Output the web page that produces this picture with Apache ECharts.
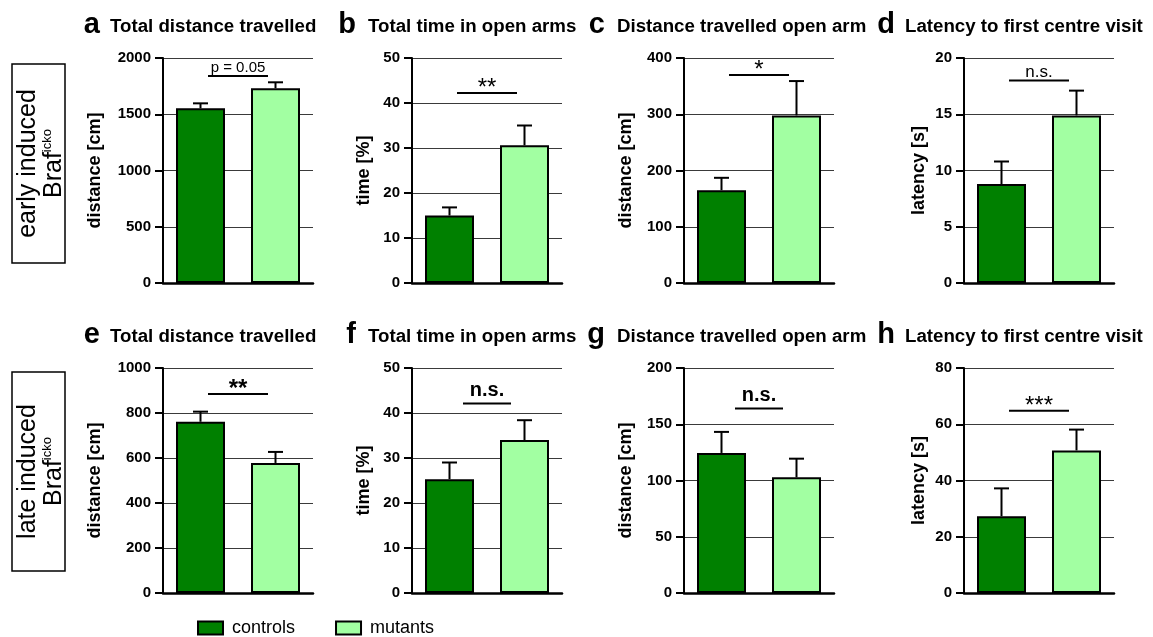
<!DOCTYPE html>
<html>
<head>
<meta charset="utf-8">
<script src="https://cdn.jsdelivr.net/npm/echarts@6/dist/echarts.min.js"></script>
<style>
  html, body { margin: 0; padding: 0; background: #fff; }
  #chart { width: 1153px; height: 637px; }
</style>
</head>
<body>
<div id="chart"></div>
<script>
// ---- data ----
const groups = ['controls', 'mutants'];
const rowLabels = ['early induced', 'late induced'];
const genotype = 'Braf';
const genotypeSup = 'icko';
const panelLetters = ['a', 'b', 'c', 'd', 'e', 'f', 'g', 'h'];
const panelTitles = [
  'Total distance travelled', 'Total time in open arms', 'Distance travelled open arm', 'Latency to first centre visit',
  'Total distance travelled', 'Total time in open arms', 'Distance travelled open arm', 'Latency to first centre visit'
];
const axisNames = [
  'distance [cm]', 'time [%]', 'distance [cm]', 'latency [s]',
  'distance [cm]', 'time [%]', 'distance [cm]', 'latency [s]'
];
const axisMax = [2000, 50, 400, 20, 1000, 50, 200, 80];
const axisStep = [500, 10, 100, 5, 200, 10, 50, 20];
const controlsMean = [1553, 15.0, 165, 8.8, 761, 25.3, 124.5, 27.3];
const controlsSEM = [44, 1.8, 22, 2.0, 45, 3.7, 18.7, 9.9];
const mutantsMean = [1731, 30.6, 298, 14.9, 578, 34.0, 102.8, 50.7];
const mutantsSEM = [53, 4.4, 61, 2.2, 49, 4.4, 16.6, 7.4];
const sigLabels = ['p = 0.05', '**', '*', 'n.s.', '**', 'n.s.', 'n.s.', '***'];
const sigLevels = [1840, 42.2, 370, 18, 884, 42.1, 164, 64.8];

// ---- layout & styles ----
const FONT = "'Liberation Sans', Arial, Helvetica, sans-serif";
const colors = { controls: '#008000', mutants: '#a2ffa2' };
const colLeft = [163, 412, 684, 964];
const rowTop = [58, 368];
const plotW = 150, plotH = 225;
const letterRight = [100, 356, 605, 895];
const titleLeft = [110, 368, 617, 905];
const titleBaseline = [33, 343.5];
const nameGaps = [59, 39, 49, 36];
const sigWidth = [60, 60, 60, 60, 60, 48, 48, 60];
const sigStyle = [
  { weight: 'normal', size: 15, lift: 8 },
  { weight: 'normal', size: 24, lift: 4.5 },
  { weight: 'normal', size: 24, lift: 4.5 },
  { weight: 'normal', size: 17, lift: 8.5 },
  { weight: 'bold', size: 24, lift: 4.5 },
  { weight: 'bold', size: 20, lift: 13.5 },
  { weight: 'bold', size: 20, lift: 13.5 },
  { weight: 'normal', size: 24, lift: 4.5 }
];

const grids = [], xAxes = [], yAxes = [], series = [], graphics = [];

panelLetters.forEach((letter, i) => {
  const col = i % 4, row = Math.floor(i / 4);
  grids.push({ left: colLeft[col], top: rowTop[row], width: plotW, height: plotH, containLabel: false });
  xAxes.push({
    type: 'category', gridIndex: i, data: groups,
    axisLine: { lineStyle: { color: '#000', width: 2.5 } },
    axisTick: { show: false }, axisLabel: { show: false }, splitLine: { show: false }
  });
  yAxes.push({
    type: 'value', gridIndex: i, min: 0, max: axisMax[i], interval: axisStep[i],
    name: axisNames[i], nameLocation: 'middle', nameGap: nameGaps[col],
    nameTextStyle: { fontFamily: FONT, fontSize: 18, fontWeight: 'bold', color: '#000' },
    axisLine: { show: true, lineStyle: { color: '#000', width: 2 } },
    axisTick: { show: true, inside: false, length: 8, lineStyle: { color: '#000', width: 2 } },
    axisLabel: { margin: 12, fontFamily: FONT, fontSize: 15, fontWeight: 'bold', color: '#000',
                 formatter: v => String(v) },
    splitLine: { show: true, lineStyle: { color: '#3a3a3a', width: 1 } }
  });

  series.push({
    type: 'bar', name: 'controls', xAxisIndex: i, yAxisIndex: i,
    data: [controlsMean[i], '-'], barWidth: 49, barGap: '-100%',
    itemStyle: { color: colors.controls, borderColor: '#000', borderWidth: 2 }, silent: true
  });
  series.push({
    type: 'bar', name: 'mutants', xAxisIndex: i, yAxisIndex: i,
    data: ['-', mutantsMean[i]], barWidth: 49, barGap: '-100%',
    itemStyle: { color: colors.mutants, borderColor: '#000', borderWidth: 2 }, silent: true
  });

  // upper SEM whiskers
  series.push({
    type: 'custom', xAxisIndex: i, yAxisIndex: i, silent: true, z: 3,
    encode: { x: 0, y: 1 },
    data: [[0, controlsMean[i], controlsSEM[i]], [1, mutantsMean[i], mutantsSEM[i]]],
    renderItem: (params, api) => {
      const c = api.value(0), m = api.value(1), e = api.value(2);
      const p0 = api.coord([c, m]);
      const p1 = api.coord([c, m + e]);
      const st = { stroke: '#000', lineWidth: 2 };
      return {
        type: 'group', children: [
          { type: 'line', shape: { x1: p0[0], y1: p0[1], x2: p1[0], y2: p1[1] }, style: st },
          { type: 'line', shape: { x1: p1[0] - 7.5, y1: p1[1], x2: p1[0] + 7.5, y2: p1[1] }, style: st }
        ]
      };
    }
  });

  // significance bracket
  const ss = sigStyle[i];
  series.push({
    type: 'custom', xAxisIndex: i, yAxisIndex: i, silent: true, z: 3,
    encode: { x: 0, y: 1 },
    data: [[0, sigLevels[i]]],
    renderItem: (params, api) => {
      const y = api.value(1);
      const a = api.coord([0, y]);
      const b = api.coord([1, y]);
      const mid = (a[0] + b[0]) / 2;
      const hw = sigWidth[i] / 2;
      return {
        type: 'group', children: [
          { type: 'line', shape: { x1: mid - hw, y1: a[1], x2: mid + hw, y2: a[1] }, style: { stroke: '#000', lineWidth: 2 } },
          { type: 'text', x: mid, y: a[1] - ss.lift,
            style: { text: sigLabels[i], fill: '#000', font: ss.weight + ' ' + ss.size + 'px ' + FONT,
                     textAlign: 'center', textVerticalAlign: 'middle' } }
        ]
      };
    }
  });

  // panel letter and heading
  graphics.push({
    type: 'text', x: letterRight[col], y: titleBaseline[row] - 0.35 * 29 + 2,
    style: { text: letter, fill: '#000', font: 'bold 29px ' + FONT, textAlign: 'right', textVerticalAlign: 'middle' }
  });
  graphics.push({
    type: 'text', x: titleLeft[col], y: titleBaseline[row] - 0.35 * 18.7,
    style: { text: panelTitles[i], fill: '#000', font: 'bold 18.7px ' + FONT, textAlign: 'left', textVerticalAlign: 'middle' }
  });
});

// framed row labels
const boxTop = [64, 372];
rowLabels.forEach((lab, r) => {
  graphics.push({
    type: 'rect', shape: { x: 12, y: boxTop[r], width: 53, height: 199 },
    style: { fill: '#fff', stroke: '#000', lineWidth: 1.5 }
  });
  graphics.push({
    type: 'text', x: 41, y: boxTop[r] + 99.5, rotation: Math.PI / 2,
    style: {
      text: '{m|' + lab + '}\n{m|' + genotype + '}{s|' + genotypeSup + '}',
      textAlign: 'center', textVerticalAlign: 'middle', fill: '#000',
      rich: {
        m: { fontFamily: FONT, fontSize: 25, lineHeight: 26, verticalAlign: 'middle', fill: '#000' },
        s: { fontFamily: FONT, fontSize: 13, lineHeight: 15, verticalAlign: 'top', fill: '#000' }
      }
    }
  });
});

const chart = echarts.init(document.getElementById('chart'), null, { renderer: 'canvas' });
chart.setOption({
  animation: false,
  backgroundColor: '#fff',
  grid: grids,
  xAxis: xAxes,
  yAxis: yAxes,
  legend: {
    data: groups, left: 192, top: 614, orient: 'horizontal',
    itemWidth: 25, itemHeight: 13, itemGap: 40, selectedMode: false,
    icon: 'rect',
    itemStyle: { borderColor: '#000', borderWidth: 2 },
    textStyle: { fontFamily: FONT, fontSize: 18, color: '#000', padding: [0, 0, 0, 4] }
  },
  series: series,
  graphic: graphics
});
</script>
</body>
</html>
